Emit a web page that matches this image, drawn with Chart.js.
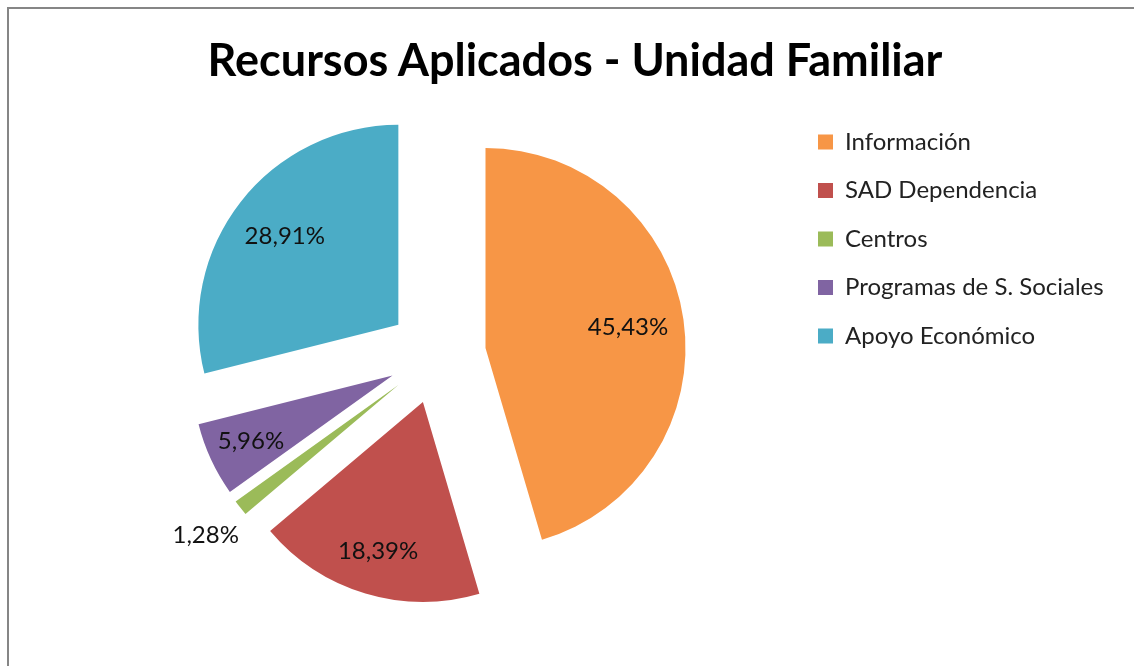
<!DOCTYPE html>
<html>
<head>
<meta charset="utf-8">
<script src="https://cdn.jsdelivr.net/npm/chart.js@4.4.0/dist/chart.umd.min.js"></script>
<style>
  html, body { margin: 0; padding: 0; background: #fff; }
  #wrap { position: relative; width: 1134px; height: 666px; overflow: hidden; }
  #frame { position: absolute; left: 7px; top: 7px; width: 1200px; height: 700px;
           border-left: 2px solid #868686; border-top: 2px solid #868686; }
  #title { position: absolute; left: 0; top: 32px; width: 1150px; text-align: center;
           font: bold 45px Lato; line-height: 54px; color: #000; }
  #chart { position: absolute; left: 0; top: 0; }
</style>
</head>
<body>
<div id="wrap">
  <div id="frame"></div>
  <canvas id="chart" width="1134" height="666"></canvas>
  <div id="title">Recursos Aplicados - Unidad Familiar</div>
</div>
<script>
const categories = ['Información', 'SAD Dependencia', 'Centros', 'Programas de S. Sociales', 'Apoyo Económico'];
const shares = [45.43, 18.39, 1.28, 5.96, 28.91];
const sliceColors = ['#F79646', '#C0504D', '#9BBB59', '#8064A2', '#4BACC6'];

// every slice is pulled out from the centre by this many pixels
const EXPLODE = 49;
const legendFont = { family: 'Lato', size: 24 };
const legendPad = 24.5;
const legendBox = 15;

const fmt = v => v.toFixed(2).replace('.', ',') + '%';

// shift each arc along its middle angle before Chart.js draws it
const explodeSlices = {
  id: 'explodeSlices',
  beforeDatasetsDraw(chart) {
    chart.getDatasetMeta(0).data.forEach(arc => {
      if (arc._exploded) return;
      const draw = arc.draw.bind(arc);
      arc.draw = function (ctx, area) {
        const mid = (this.startAngle + this.endAngle) / 2;
        ctx.save();
        ctx.translate(Math.cos(mid) * EXPLODE, Math.sin(mid) * EXPLODE);
        draw(ctx, area);
        ctx.restore();
      };
      arc._exploded = true;
    });
  }
};

const sliceLabels = {
  id: 'sliceLabels',
  afterDatasetsDraw(chart) {
    const ctx = chart.ctx;
    ctx.save();
    ctx.font = '24px Lato';
    ctx.fillStyle = '#111';
    ctx.textAlign = 'center';
    ctx.textBaseline = 'middle';
    chart.getDatasetMeta(0).data.forEach((arc, i) => {
      const mid = (arc.startAngle + arc.endAngle) / 2;
      let k = shares[i] > 20 ? 0.72 : 0.78;
      if (shares[i] < 3) k = 1.22;
      const d = EXPLODE + k * arc.outerRadius;
      ctx.fillText(fmt(shares[i]), arc.x + Math.cos(mid) * d, arc.y + Math.sin(mid) * d);
    });
    ctx.restore();
  }
};

const ctx = document.getElementById('chart').getContext('2d');

// work out the legend width so its swatches start at x = 818
ctx.font = legendFont.size + 'px ' + legendFont.family;
const widest = Math.max(...categories.map(c => ctx.measureText(c).width));
const legendWidth = legendPad + legendBox + legendFont.size / 2 + widest + 10;
const legendLeft = 818 - legendPad;
const padRight = 1134 - legendLeft - legendWidth;
const padLeft = 2 * 437 - legendLeft;

new Chart(ctx, {
  type: 'pie',
  data: {
    labels: categories,
    datasets: [{
      data: shares,
      backgroundColor: sliceColors,
      borderWidth: 0,
      radius: 200
    }]
  },
  options: {
    responsive: false,
    animation: false,
    layout: { padding: { left: padLeft, right: padRight, top: 105.5, bottom: 61.5 } },
    plugins: {
      legend: {
        position: 'right',
        align: 'start',
        labels: {
          color: '#222',
          font: legendFont,
          boxWidth: legendBox,
          boxHeight: legendBox,
          padding: legendPad
        }
      },
      tooltip: { enabled: false }
    }
  },
  plugins: [explodeSlices, sliceLabels]
});
</script>
</body>
</html>
